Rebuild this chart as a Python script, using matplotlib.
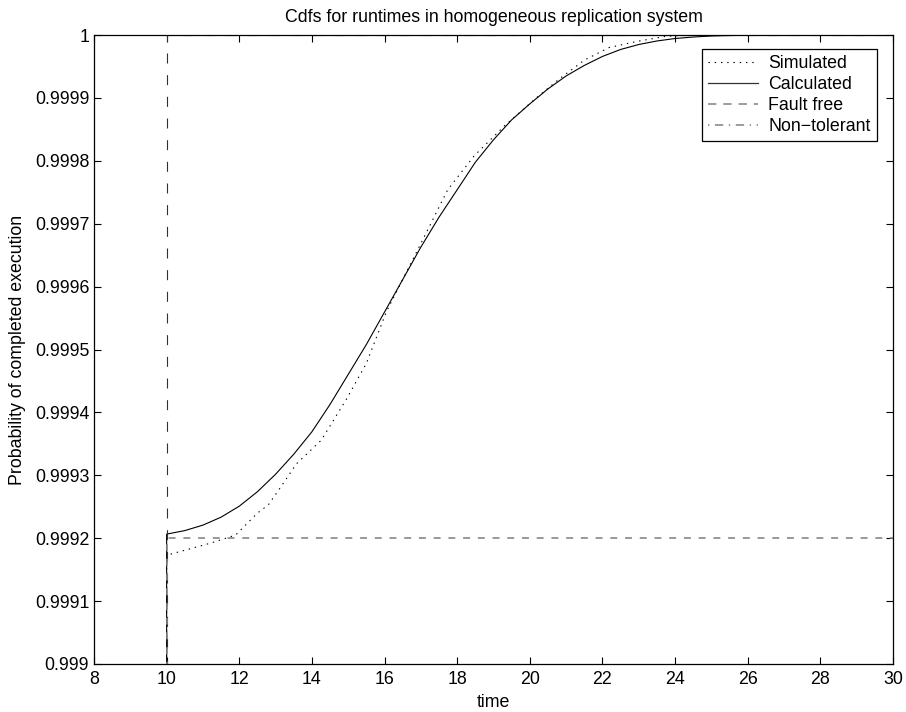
import matplotlib
matplotlib.use("Agg")
import matplotlib.pyplot as plt
from matplotlib.lines import Line2D

plt.rcParams['font.family'] = ['Liberation Sans', 'DejaVu Sans']
plt.rcParams['lines.scale_dashes'] = False

# ---- data ----
calc_x = [10.0, 10.0, 10.5, 11.0, 11.5, 12.0, 12.5, 13.0, 13.5, 14.0, 14.5, 15.0, 15.5,
          16.0, 16.5, 17.0, 17.5, 18.0, 18.5, 19.0, 19.5, 20.0, 20.5, 21.0, 21.5,
          22.0, 22.5, 23.0, 23.5, 24.0, 24.5, 25.0, 25.5, 26.0, 30.0]
calc_y = [0.0, 0.9992065, 0.9992121, 0.9992208, 0.9992335, 0.9992509, 0.9992739,
          0.9993017, 0.9993335, 0.9993692, 0.9994128, 0.9994604, 0.9995080,
          0.9995596, 0.9996112, 0.9996628, 0.9997104, 0.9997540, 0.9997977,
          0.9998334, 0.9998651, 0.9998905, 0.9999143, 0.9999349, 0.9999516,
          0.9999659, 0.9999770, 0.9999849, 0.9999905, 0.9999944, 0.9999968,
          0.9999984, 0.9999992, 1.0, 1.0]

sim_x = [10.0, 10.0, 10.1, 11.2, 11.9, 12.5, 12.8, 13.15, 13.57, 14.26, 14.94, 15.5,
         16.05, 16.9, 17.74, 18.47, 19.31, 20.16, 20.83, 21.5, 22.18, 22.97, 23.76,
         24.5, 30.0]
sim_y = [0.0, 0.999174, 0.9991745, 0.999192, 0.999205, 0.999240, 0.999253, 0.999282,
         0.999318, 0.999356, 0.999420, 0.999478, 0.999560, 0.999657, 0.999754,
         0.999808, 0.999856, 0.999899, 0.999931, 0.999960, 0.999980, 0.999990,
         0.999998, 1.0, 1.0]

# fault-free run: always finishes at t = 10
fault_free_x = [8.0, 10.0, 10.0, 30.0]
fault_free_y = [0.0, 0.0, 1.0, 1.0]

# non-tolerant run: finishes at t = 10 only if no fault occurs
non_tol_x = [8.0, 10.0, 10.0, 30.0]
non_tol_y = [0.0, 0.0, 0.9992, 0.9992]

x_ticks = [8, 10, 12, 14, 16, 18, 20, 22, 24, 26, 28, 30]
y_ticks = [0.999, 0.9991, 0.9992, 0.9993, 0.9994, 0.9995, 0.9996, 0.9997, 0.9998, 0.9999, 1.0]
y_tick_labels = ['0.999', '0.9991', '0.9992', '0.9993', '0.9994', '0.9995',
                 '0.9996', '0.9997', '0.9998', '0.9999', '1']

FS = 12.8

# ---- figure ----
fig = plt.figure(figsize=(9.06, 7.12), dpi=100)
ax = fig.add_axes([94 / 906, (712 - 664) / 712, (893 - 94) / 906, (664 - 35) / 712])

dotted = (0, (1.0, 3.5))
ff_dash = (0, (7.2, 8.4))
nt_dash = (0, (5.0, 5.6))
legend_dash = (0, (6.0, 5.0))
legend_dashdot = (0, (1.0, 4.0, 6.0, 4.0))

ax.plot(sim_x, sim_y, color='black', lw=0.8, linestyle=dotted, label='Simulated')
ax.plot(calc_x, calc_y, color='black', lw=0.8, linestyle='-', label='Calculated')
ax.plot(fault_free_x, fault_free_y, color='#303030', lw=0.8, linestyle=ff_dash, label='Fault free')
ax.plot(non_tol_x, non_tol_y, color='#888888', lw=1.2, linestyle=nt_dash, label='Non\u2212tolerant')

ax.set_xlim(8, 30)
ax.set_ylim(0.999, 1.0)
ax.set_xticks(x_ticks)
ax.set_xticklabels([str(t) for t in x_ticks])
ax.set_yticks(y_ticks)
ax.set_yticklabels(y_tick_labels)
ax.tick_params(direction='in', length=5, width=0.8, top=True, right=True,
               labelsize=FS)
ax.tick_params(axis='x', pad=5)
ax.tick_params(axis='y', pad=3.5)
for s in ax.spines.values():
    s.set_linewidth(0.9)
    s.set_color('black')
    s.set_zorder(5)

ax.set_title('Cdfs for runtimes in homogeneous replication system', fontsize=FS, pad=9.5)
ax.set_xlabel('time', fontsize=FS, labelpad=4.5)
ax.set_ylabel('Probability of completed execution', fontsize=FS, labelpad=6)

handles = [
    Line2D([], [], color='black', lw=0.8, linestyle=dotted),
    Line2D([], [], color='#333333', lw=0.9, linestyle='-'),
    Line2D([], [], color='#808080', lw=1.1, linestyle=legend_dash),
    Line2D([], [], color='#808080', lw=1.1, linestyle=legend_dashdot),
]
labels = ['Simulated', 'Calculated', 'Fault free', 'Non\u2212tolerant']
leg = ax.legend(handles, labels, loc='upper right',
                bbox_to_anchor=((877 - 94) / (893 - 94), 1 - (49 - 35) / 629),
                borderaxespad=0, fontsize=FS, handlelength=2.8, handletextpad=0.6,
                labelspacing=0.22, borderpad=0.35, fancybox=False, framealpha=1,
                edgecolor='black')
leg.get_frame().set_linewidth(0.9)
leg.set_zorder(6)

fig.savefig('out.png', dpi=100)
